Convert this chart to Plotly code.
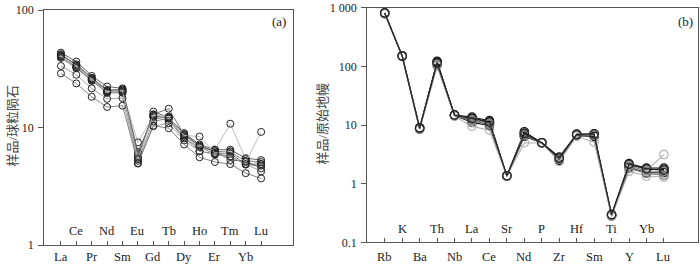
import plotly.graph_objects as go

# ---------------- data ----------------
ree_labels = ["La", "Ce", "Pr", "Nd", "Sm", "Eu", "Gd", "Tb", "Dy", "Ho", "Er", "Tm", "Yb", "Lu"]
ree_s1 = [43.5, 36.5, 27.6, 22.4, 21.6, 5.5, 13.7, 12.2, 9.0, 7.2, 6.5, 6.5, 5.5, 5.3]
ree_s2 = [42.2, 34.0, 26.6, 20.9, 20.9, 5.7, 13.0, 14.5, 8.7, 6.9, 6.3, 6.2, 5.2, 5.1]
ree_s3 = [41.0, 32.8, 25.7, 20.5, 20.1, 7.5, 12.6, 11.9, 8.4, 7.0, 6.5, 10.8, 5.4, 4.9]
ree_s4 = [40.0, 32.8, 25.3, 19.8, 19.8, 5.97, 12.2, 11.5, 8.1, 6.8, 6.0, 6.0, 4.9, 4.9]
ree_s5 = [39.2, 32.0, 25.0, 19.9, 20.4, 5.23, 11.3, 12.0, 8.3, 6.3, 6.0, 5.7, 4.85, 4.75]
ree_s6 = [41.5, 34.6, 26.3, 20.7, 21.2, 6.2, 12.5, 12.2, 8.8, 7.0, 6.3, 5.3, 5.2, 4.5]
ree_s7 = [33.5, 28.2, 21.6, 17.6, 17.9, 4.95, 10.3, 10.9, 7.8, 6.3, 5.9, 5.7, 4.9, 4.25]
ree_s8 = [29.0, 23.8, 18.3, 15.0, 15.4, 5.0, 10.4, 9.9, 7.2, 5.6, 5.1, 4.9, 4.1, 3.7]
ree_s9 = [40.5, 33.5, 25.9, 20.2, 20.7, 5.4, 12.9, 12.4, 8.6, 8.4, 6.1, 6.3, 5.1, 9.2]
ree_samples = [ree_s1, ree_s2, ree_s3, ree_s4, ree_s5, ree_s6, ree_s7, ree_s8, ree_s9]

spider_labels = ["Rb", "K", "Ba", "Th", "Nb", "La", "Ce", "Sr", "Nd", "P", "Zr", "Hf", "Sm", "Ti", "Y", "Yb", "Lu"]
sp_s1 = [820, 152, 8.8, 118, 14.8, 13.7, 11.9, 1.36, 7.7, 5.0, 2.85, 7.0, 7.0, 0.29, 2.2, 1.85, 1.84]
sp_s2 = [810, 150, 8.7, 112, 14.6, 13.2, 11.4, 1.35, 7.3, 5.0, 2.7, 6.9, 6.9, 0.29, 2.1, 1.75, 1.75]
sp_s3 = [800, 149, 8.6, 108, 14.5, 12.6, 10.9, 1.35, 7.0, 5.0, 2.6, 6.8, 6.7, 0.28, 2.05, 1.69, 3.14]
sp_s4 = [795, 148, 8.5, 105, 14.4, 12.2, 10.7, 1.34, 6.8, 4.9, 2.55, 6.7, 6.5, 0.28, 2.0, 1.65, 1.62]
sp_s5 = [805, 151, 9.0, 122, 14.7, 11.1, 9.8, 1.36, 6.4, 5.0, 2.5, 6.6, 6.4, 0.29, 1.9, 1.54, 1.54]
sp_s6 = [790, 147, 8.4, 100, 14.2, 9.5, 8.2, 1.34, 5.0, 4.9, 2.4, 6.5, 5.1, 0.28, 1.63, 1.35, 1.30]
sp_s7 = [800, 150, 8.6, 110, 14.5, 11.8, 10.2, 1.35, 6.6, 5.0, 2.6, 6.8, 6.8, 0.285, 1.84, 1.5, 1.40]
sp_s8 = [815, 150, 8.9, 115, 14.9, 12.9, 11.2, 1.37, 7.1, 5.0, 2.75, 6.9, 7.1, 0.30, 2.15, 1.8, 1.70]
spider_samples = [sp_s1, sp_s2, sp_s3, sp_s4, sp_s5, sp_s6, sp_s7, sp_s8]

left_ticks = [1, 10, 100]
left_ticktext = ["1", "10", "100"]
right_ticks = [0.1, 1, 10, 100, 1000]
right_ticktext = ["0.1", "1", "10", "100", "1 000"]

# ---------------- styles ----------------
ree_colors = ["#555555", "#666666", "#b5b5b5", "#777777", "#888888", "#555555", "#999999", "#777777", "#b5b5b5"]
sp_colors = ["#111111", "#222222", "#aaaaaa", "#888888", "#111111", "#b0b0b0", "#777777", "#222222"]

FONT = "Liberation Serif, Noto Sans CJK SC, serif"
TXT = "#222222"
AX = "#555555"

fig = go.Figure()

x_ree = list(range(1, len(ree_labels) + 1))
for vals, col in zip(ree_samples, ree_colors):
    fig.add_trace(go.Scatter(
        x=x_ree, y=vals, mode="lines+markers", xaxis="x", yaxis="y",
        line=dict(color=col, width=0.9),
        marker=dict(symbol="circle-open", size=7, color="#222222", line=dict(width=1)),
        showlegend=False, hoverinfo="skip"))

x_sp = list(range(1, len(spider_labels) + 1))
for vals, col in zip(spider_samples, sp_colors):
    fig.add_trace(go.Scatter(
        x=x_sp, y=vals, mode="lines+markers", xaxis="x2", yaxis="y2",
        line=dict(color=col, width=1.1),
        marker=dict(symbol="circle-open", size=8.5, color=col, line=dict(width=1.1)),
        showlegend=False, hoverinfo="skip"))

W, H = 700, 269
lx0, lx1 = 44.3, 292.7
ly0, ly1 = 3.3, 251.3
rx0, rx1 = 367.3, 698.3
ry0, ry1 = 0.8, 248.3

def xaxis_common(labels, rng, dom):
    return dict(
        domain=dom, range=rng, showgrid=False, zeroline=False,
        showline=True, mirror=True, linecolor=AX, linewidth=1.3,
        tickmode="array", tickvals=list(range(1, len(labels) + 1)),
        showticklabels=False,
        ticks="inside", ticklen=4, tickcolor=AX, tickwidth=1,
    )

def yaxis_common(tv, tt, rng, dom, anchor):
    return dict(
        domain=dom, type="log", range=rng, anchor=anchor, showgrid=False, zeroline=False,
        showline=True, mirror=True, linecolor=AX, linewidth=1.3,
        tickmode="array", tickvals=tv, ticktext=tt,
        ticks="outside", ticklen=5, tickcolor=AX, tickwidth=1,
        tickfont=dict(family=FONT, size=12, color=TXT), ticklabelstandoff=2,
        ticklabeloverflow="allow",
    )

fig.update_layout(
    width=W, height=H, margin=dict(l=0, r=0, t=0, b=0),
    paper_bgcolor="white", plot_bgcolor="white",
    xaxis=xaxis_common(ree_labels, [-0.08, 16.05], [lx0 / W, lx1 / W]) | dict(anchor="y"),
    yaxis=yaxis_common(left_ticks, left_ticktext, [-0.0005, 2.0005], [1 - ly1 / H, 1 - ly0 / H], "x"),
    xaxis2=xaxis_common(spider_labels, [0, 18.97], [rx0 / W, rx1 / W]) | dict(anchor="y2"),
    yaxis2=yaxis_common(right_ticks, right_ticktext, [-1.001, 3.001], [1 - ry1 / H, 1 - ry0 / H], "x2"),
)

ann = []
for i, lab in enumerate(ree_labels):
    ann.append(dict(x=i + 1, y=0, xref="x", yref="y domain", text=lab, showarrow=False,
                    yanchor="middle", yshift=(14 if i % 2 == 1 else -12),
                    font=dict(family=FONT, size=12.5, color=TXT)))
for i, lab in enumerate(spider_labels):
    ann.append(dict(x=i + 1, y=0, xref="x2", yref="y2 domain", text=lab, showarrow=False,
                    yanchor="middle", yshift=(13 if i % 2 == 1 else -15),
                    font=dict(family=FONT, size=12.5, color=TXT)))

ann.append(dict(x=279 / W, y=1 - 15 / H, xref="paper", yref="paper", text="(a)", showarrow=False,
                xanchor="center", yanchor="middle", font=dict(family=FONT, size=13, color=TXT)))
ann.append(dict(x=685 / W, y=1 - 15 / H, xref="paper", yref="paper", text="(b)", showarrow=False,
                xanchor="center", yanchor="middle", font=dict(family=FONT, size=13, color=TXT)))
ann.append(dict(x=12 / W, y=1 - 125 / H, xref="paper", yref="paper", text="样品/球粒陨石", showarrow=False,
                textangle=-90, xanchor="center", yanchor="middle",
                font=dict(family=FONT, size=13, color="#444444")))
ann.append(dict(x=323 / W, y=1 - 123 / H, xref="paper", yref="paper", text="样品/原始地幔", showarrow=False,
                textangle=-90, xanchor="center", yanchor="middle",
                font=dict(family=FONT, size=13, color="#444444")))
fig.update_layout(annotations=ann)

fig.write_html("out.html", config={"displayModeBar": False},
               post_script="document.body.style.margin='0';document.body.style.overflow='hidden';")
